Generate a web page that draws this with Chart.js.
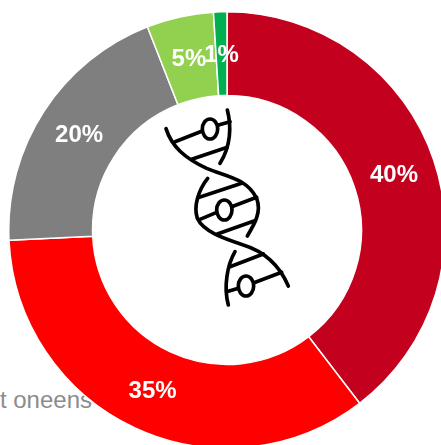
<!DOCTYPE html>
<html>
<head>
<meta charset="utf-8">
<style>
    html, body {margin:0; padding:0; width:441px; height:445px; overflow:hidden; background:#fff;}
    #wrap {position:absolute; left:8px; top:11px; width:438px; height:438px;}
    #side-label {position:absolute; right:349px; top:386px; font:24px "Liberation Sans"; color:#8c8c8c; white-space:nowrap;}
    #dna {position:absolute; left:140px; top:90px;}
</style>
<script src="https://cdn.jsdelivr.net/npm/chart.js@4"></script>
</head>
<body>
<div id="side-label">t oneens</div>
<div id="wrap"><canvas id="donut" width="438" height="438"></canvas></div>

<!-- dna icon, traced in 3x units -->
<svg id="dna" width="170" height="220" viewBox="0 0 510 660" fill="none" stroke="#000" stroke-width="11" stroke-linecap="round">
    <path d="M78,116 C95,170 135,205 200,235 C260,260 320,265 350,325 C365,365 345,400 322,438"/>
    <path d="M262,60 C275,110 272,170 240,220"/>
    <path d="M203,265 C175,300 160,350 172,385 C190,425 250,445 310,465 C375,485 420,530 445,588"/>
    <path d="M285,485 C262,525 250,590 265,645"/>
    <path d="M105,155 L185,124 M233,106 L270,95 M155,208 L262,172"/>
    <path d="M178,322 L305,280 M180,388 L230,367 M275,350 L350,322 M232,432 L342,393"/>
    <path d="M270,530 L370,492 M260,605 L295,595 M342,578 L425,547"/>
    <ellipse cx="210" cy="117" rx="23" ry="30"/>
    <ellipse cx="253" cy="360" rx="23" ry="30"/>
    <ellipse cx="318" cy="588" rx="23" ry="30"/>
</svg>

<script>
const categories = ["A", "B", "C", "D", "E"]
const values = [40, 35, 20, 5, 1]
const percentLabels = ["40%", "35%", "20%", "5%", "1%"]
const sliceColors = ["#C4001F", "#FF0000", "#7F7F7F", "#92D050", "#00B050"]

//write the percentage in the middle of each slice
const sliceLabels = {
    id: "sliceLabels",
    afterDatasetsDraw(chart) {
        const ctx = chart.ctx
        ctx.save()
        ctx.font = 'bold 24px "Liberation Sans"'
        ctx.fillStyle = "#fff"
        ctx.textAlign = "center"
        ctx.textBaseline = "middle"
        chart.getDatasetMeta(0).data.forEach((arc, i) => {
            const pos = arc.tooltipPosition()
            ctx.fillText(percentLabels[i], pos.x, pos.y + 1.5)
        })
        ctx.restore()
    }
}

new Chart("donut", {
    type: "doughnut",
    data: {
        labels: categories,
        datasets: [{
            data: values,
            backgroundColor: sliceColors,
            borderColor: "#fff",
            borderWidth: 1.5,
        }]
    },
    options: {
        responsive: false,
        animation: false,
        cutout: "61.6%",
        plugins: {
            legend: {display: false},
            tooltip: {enabled: false},
        },
    },
    plugins: [sliceLabels]
})
</script>
</body>
</html>
